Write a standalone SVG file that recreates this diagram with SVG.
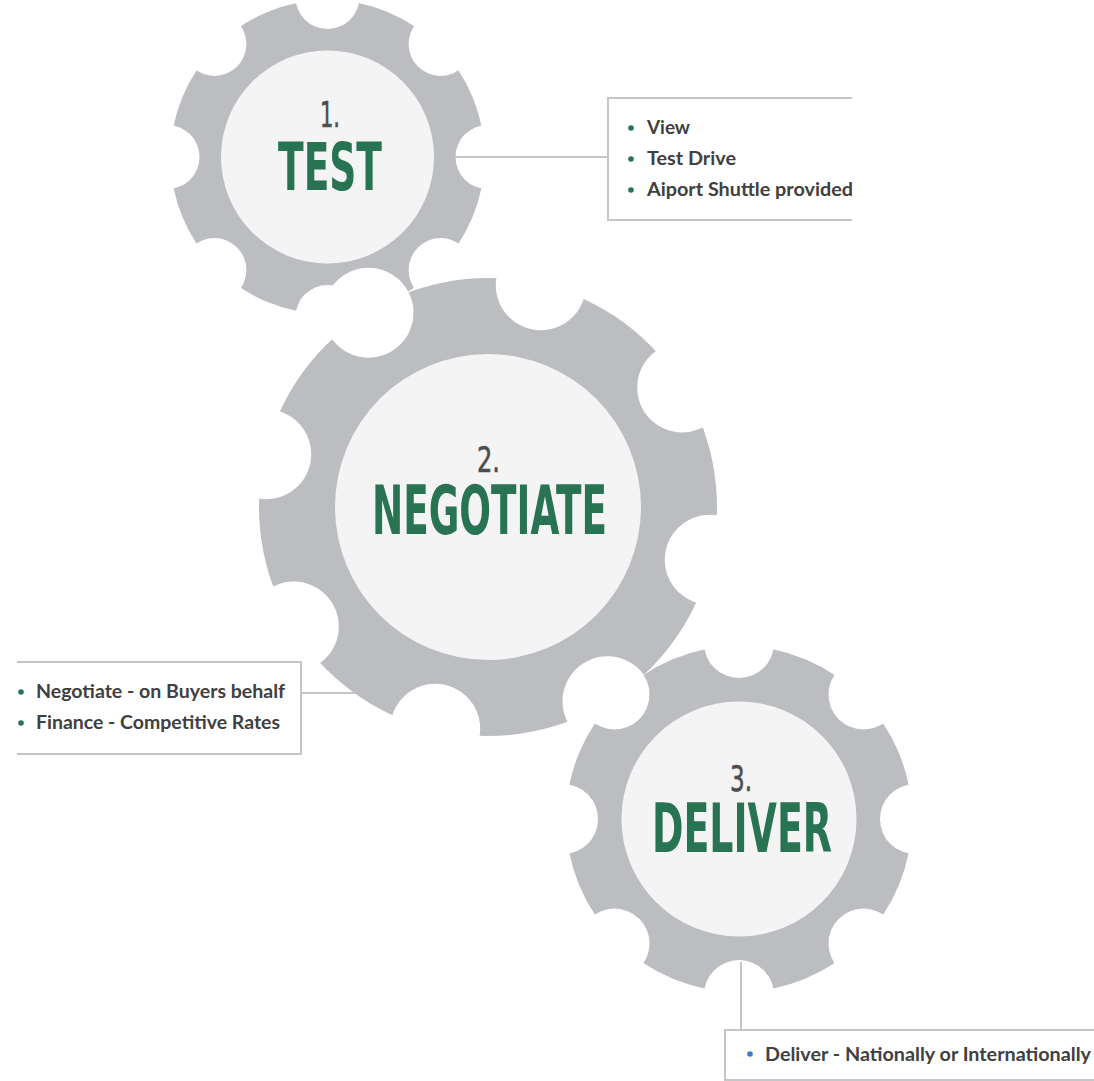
<svg xmlns="http://www.w3.org/2000/svg" width="1094" height="1081" viewBox="0 0 1094 1081">
<style>
.rim{fill:#bcbdc0}
.notch{fill:#ffffff}
.hub{fill:#f4f4f4}
.num{font-family:"Liberation Sans Narrow","DejaVu Sans Condensed","Liberation Sans",sans-serif;font-stretch:condensed;font-weight:normal;fill:#4d4d4f;text-anchor:middle;stroke:#4d4d4f;stroke-width:0.6}
.title{font-family:"Liberation Sans Narrow","DejaVu Sans Condensed","Liberation Sans",sans-serif;font-stretch:condensed;font-weight:bold;fill:#287351;text-anchor:middle}
.item{font-family:Lato,"Liberation Sans",sans-serif;font-weight:bold;font-size:18px;fill:#404041}
.dot{fill:#287351}
.dotb{fill:#3d7cc9}
.line{stroke:#c6c6c8;stroke-width:2;fill:none}
</style>
<rect width="1094" height="1081" fill="#ffffff"/>
<g id="gear-test">
<circle class="rim" cx="327.5" cy="157" r="157"/>
<circle class="notch" cx="487.5" cy="157" r="32"/>
<circle class="notch" cx="440.6" cy="270.1" r="32"/>
<circle class="notch" cx="327.5" cy="317" r="32"/>
<circle class="notch" cx="214.4" cy="270.1" r="32"/>
<circle class="notch" cx="167.5" cy="157" r="32"/>
<circle class="notch" cx="214.4" cy="43.9" r="32"/>
<circle class="notch" cx="327.5" cy="-3" r="32"/>
<circle class="notch" cx="440.6" cy="43.9" r="32"/>
<circle class="hub" cx="327.5" cy="157" r="106.5"/>
<text class="num" x="330" y="127" font-size="36" textLength="20" lengthAdjust="spacingAndGlyphs">1.</text>
<text class="title" x="330" y="190" font-size="66" textLength="104" lengthAdjust="spacingAndGlyphs">TEST</text>
</g>
<g id="gear-negotiate">
<circle class="rim" cx="488" cy="507" r="229"/>
<circle class="notch" cx="540.8" cy="285.2" r="45"/>
<circle class="notch" cx="682.2" cy="387.5" r="45"/>
<circle class="notch" cx="709.8" cy="559.8" r="45"/>
<circle class="notch" cx="607.5" cy="701.2" r="45"/>
<circle class="notch" cx="435.2" cy="728.8" r="45"/>
<circle class="notch" cx="293.8" cy="626.5" r="45"/>
<circle class="notch" cx="266.2" cy="454.2" r="45"/>
<circle class="notch" cx="368.5" cy="312.8" r="45"/>
<circle class="hub" cx="488" cy="507" r="153"/>
<text class="num" x="488.5" y="472" font-size="36" textLength="23" lengthAdjust="spacingAndGlyphs">2.</text>
<text class="title" x="489.5" y="534" font-size="68" textLength="235" lengthAdjust="spacingAndGlyphs">NEGOTIATE</text>
</g>
<g id="gear-deliver">
<circle class="rim" cx="739" cy="819" r="173"/>
<circle class="notch" cx="915" cy="819" r="35"/>
<circle class="notch" cx="863.5" cy="943.5" r="35"/>
<circle class="notch" cx="739" cy="995" r="35"/>
<circle class="notch" cx="614.5" cy="943.5" r="35"/>
<circle class="notch" cx="563" cy="819" r="35"/>
<circle class="notch" cx="614.5" cy="694.5" r="35"/>
<circle class="notch" cx="739" cy="643" r="35"/>
<circle class="notch" cx="863.5" cy="694.5" r="35"/>
<circle class="hub" cx="739" cy="819" r="117.5"/>
<text class="num" x="741" y="791" font-size="36" textLength="22" lengthAdjust="spacingAndGlyphs">3.</text>
<text class="title" x="742" y="852" font-size="67" textLength="180" lengthAdjust="spacingAndGlyphs">DELIVER</text>
</g>
<g id="connectors">
<path class="line" d="M455 157 H608"/>
<path class="line" d="M301 693 H356"/>
<path class="line" d="M741 962 V1030"/>
</g>
<g id="box-test">
<path class="line" d="M852 98 H608 V220 H852"/>
<circle class="dot" cx="631" cy="128" r="2.8"/>
<text class="item" x="647" y="134" textLength="43" lengthAdjust="spacingAndGlyphs">View</text>
<circle class="dot" cx="631" cy="159" r="2.8"/>
<text class="item" x="647" y="165" textLength="89" lengthAdjust="spacingAndGlyphs">Test Drive</text>
<circle class="dot" cx="631" cy="190" r="2.8"/>
<text class="item" x="647" y="196" textLength="206" lengthAdjust="spacingAndGlyphs">Aiport Shuttle provided</text>
</g>
<g id="box-negotiate">
<path class="line" d="M17 662 H301 V754 H17"/>
<circle class="dot" cx="21" cy="692" r="2.8"/>
<text class="item" x="36" y="698" textLength="249" lengthAdjust="spacingAndGlyphs">Negotiate - on Buyers behalf</text>
<circle class="dot" cx="21" cy="723" r="2.8"/>
<text class="item" x="36" y="729" textLength="244" lengthAdjust="spacingAndGlyphs">Finance - Competitive Rates</text>
</g>
<g id="box-deliver">
<path class="line" d="M1094 1030 H725 V1080 H1094"/>
<circle class="dotb" cx="750" cy="1054" r="2.8"/>
<text class="item" x="765" y="1061" textLength="326" lengthAdjust="spacingAndGlyphs">Deliver - Nationally or Internationally</text>
</g>
</svg>
